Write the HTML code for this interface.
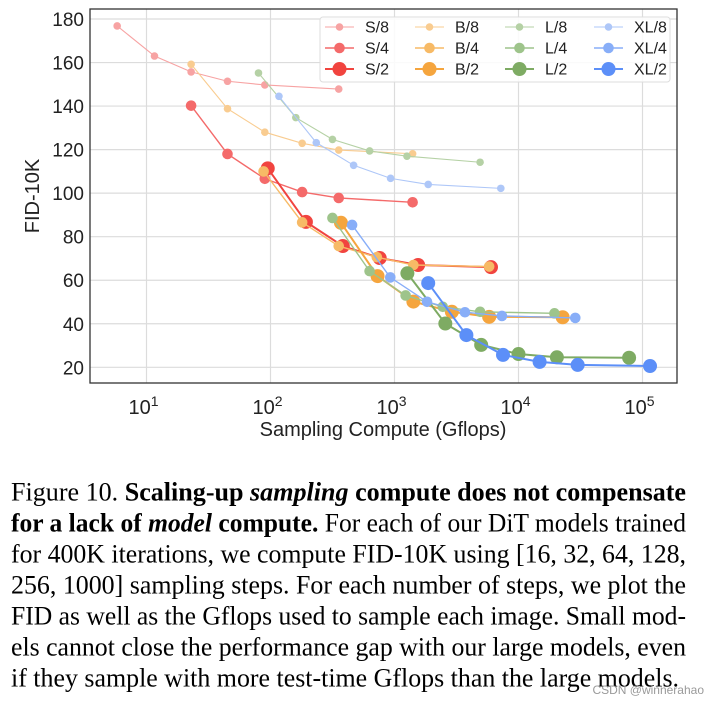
<!DOCTYPE html>
<html><head><meta charset="utf-8">
<style>
html,body{margin:0;padding:0;background:#fff;}
body{width:707px;height:707px;position:relative;overflow:hidden;}
#chart{position:absolute;left:0;top:0;}
#caption{position:absolute;left:11px;top:478px;width:675px;font-family:"Liberation Serif",serif;font-size:24px;line-height:31px;color:#000;}
#caption .ln{display:inline-block;white-space:nowrap;height:31px;transform-origin:left center;}
#wm{position:absolute;right:3px;top:683px;font-family:"Liberation Sans",sans-serif;font-size:12px;color:#9a9a9a;}
</style></head>
<body>
<svg id="chart" width="707" height="470"></svg>
<div id="caption">
<span class="ln" data-w="675">Figure 10. <b>Scaling-up <i>sampling</i> compute does not compensate</b></span><br>
<span class="ln" data-w="675"><b>for a lack of <i>model</i> compute.</b> For each of our DiT models trained</span><br>
<span class="ln" data-w="675">for 400K iterations, we compute FID-10K using [16, 32, 64, 128,</span><br>
<span class="ln" data-w="675">256, 1000] sampling steps. For each number of steps, we plot the</span><br>
<span class="ln" data-w="675">FID as well as the Gflops used to sample each image. Small mod-</span><br>
<span class="ln" data-w="675">els cannot close the performance gap with our large models, even</span><br>
<span class="ln" data-w="668">if they sample with more test-time Gflops than the large models.</span>
</div>
<div id="wm">CSDN @winnerahao</div>
<script>
const seriesNames=["S/8","S/4","S/2","B/8","B/4","B/2","L/8","L/4","L/2","XL/8","XL/4","XL/2"];
const S8x=[5.8,11.6,22.9,45,90,355], S8y=[176.8,163,155.7,151.4,149.7,147.8];
const S4x=[22.9,45,90,180,355,1400], S4y=[140.2,118,106.6,100.5,97.8,95.8];
const S2x=[95,193,383,760,1550,6000], S2y=[111.4,86.8,75.7,70.2,67,66];
const B8x=[22.9,45,90,180,355,1400], B8y=[159.2,138.8,128,122.9,119.8,118.1];
const B4x=[88,180,355,720,1420,5800], B4y=[110,86.6,75.7,70.6,67,66.3];
const B2x=[370,730,1420,2900,5800,22700], B2y=[86.4,61.9,50.2,45.5,43.2,43];
const L8x=[80,160,316,630,1260,4900], L8y=[155.2,134.7,124.7,119.4,117,114.2];
const L4x=[316,630,1230,2450,4900,19500], L4y=[88.6,64.2,53,47.8,45.5,44.8];
const L2x=[1270,2570,5000,10000,20400,78000], L2y=[63.2,40.1,30.3,26.1,24.6,24.4];
const XL8x=[117,234,468,930,1870,7200], XL8y=[144.5,123.2,112.8,106.8,104,102.2];
const XL4x=[455,925,1830,3700,7350,28700], XL4y=[85.4,61.3,50.1,45.3,43.6,42.7];
const XL2x=[1870,3800,7500,14800,30000,115000], XL2y=[58.7,34.8,25.7,22.5,21.1,20.6];
const yTicks=[20,40,60,80,100,120,140,160,180];
const xTickExp=[1,2,3,4,5];

const X=[S8x,S4x,S2x,B8x,B4x,B2x,L8x,L4x,L2x,XL8x,XL4x,XL2x];
const Y=[S8y,S4y,S2y,B8y,B4y,B2y,L8y,L4y,L2y,XL8y,XL4y,XL2y];
const colors=["#f7a3a3","#f46a6a","#f1443f","#f9cc90","#f7ba66","#f5a53e","#b5d1a5","#9ec48b","#7eab63","#aec7f8","#88aef8","#5c8ff8"];
const radii=[3.8,5.3,7,3.8,5.3,7,3.8,5.3,7,3.8,5.3,7];
const lws=[1.1,1.4,2,1.1,1.4,2,1.1,1.4,2,1.1,1.4,2];
const L=90,R=677,T=9,B=383;
const sx=v=>146.5+124*(Math.log10(v)-1);
const sy=v=>19+(180-v)*2.177;
const svg=document.getElementById('chart');
const NS='http://www.w3.org/2000/svg';
function mk(t,a,p){const e=document.createElementNS(NS,t);for(const k in a)e.setAttribute(k,a[k]);(p||svg).appendChild(e);return e;}
yTicks.forEach(v=>{const l=mk('line',{x1:L,x2:R,y1:sy(v),y2:sy(v),stroke:'#dcdcdc','stroke-width':1.2});

const t=mk('text',{x:84,y:sy(v)+7,'text-anchor':'end','font-family':'Liberation Sans, DejaVu Sans, sans-serif','font-size':19,fill:'#222'});t.textContent=v;
});
xTickExp.forEach(e=>{const x=sx(Math.pow(10,e));const l=mk('line',{x1:x,x2:x,y1:T,y2:B,stroke:'#dcdcdc','stroke-width':1.2});

const t=mk('text',{x:x-3,y:414,'text-anchor':'middle','font-family':'Liberation Sans, DejaVu Sans, sans-serif','font-size':20,fill:'#222'});

t.textContent='10';const s=mk('tspan',{dy:-8,'font-size':14},t);s.textContent=e;});
const frame=mk('rect',{x:L,y:T,width:R-L,height:B-T,fill:'none',stroke:'#333','stroke-width':1.3});

X.forEach((xs,i)=>{const g=mk('g',{});

mk('polyline',{points:xs.map((x,j)=>sx(x)+','+sy(Y[i][j])).join(' '),fill:'none',stroke:colors[i],'stroke-width':lws[i]},g);
xs.forEach((x,j)=>{const c=mk('circle',{cx:sx(x),cy:sy(Y[i][j]),r:radii[i],fill:colors[i]},g);
});});
const lg=mk('g',{});
mk('rect',{x:320,y:17,width:350,height:65,rx:3,fill:'#fff','fill-opacity':0.85,stroke:'#ddd'},lg);
const colX=[325,415,505,594];
seriesNames.forEach((n,i)=>{const c=Math.floor(i/3),r=i%3;const x=colX[c],y=27+r*21;
const e=mk('g',{},lg);
mk('line',{x1:x,x2:x+29,y1:y,y2:y,stroke:colors[i],'stroke-width':lws[i]},e);
mk('circle',{cx:x+14.5,cy:y,r:radii[i],fill:colors[i]},e);
const t=mk('text',{x:x+40,y:y+5.5,'font-family':'Liberation Sans, DejaVu Sans, sans-serif','font-size':16,fill:'#222'},e);t.textContent=n;});
const xt=mk('text',{x:383,y:436,'text-anchor':'middle','font-family':'Liberation Sans, DejaVu Sans, sans-serif','font-size':20,fill:'#222'});xt.textContent='Sampling Compute (Gflops)';

const yt=mk('text',{x:0,y:0,'text-anchor':'middle','font-family':'Liberation Sans, DejaVu Sans, sans-serif','font-size':20,fill:'#222',transform:'translate(39,196) rotate(-90)'});yt.textContent='FID-10K';

document.querySelectorAll('#caption .ln').forEach(s=>{const w=s.getBoundingClientRect().width;const target=+s.dataset.w;
s.style.transform='scale('+(target/w)+',1.08)';});
</script>
</body></html>
